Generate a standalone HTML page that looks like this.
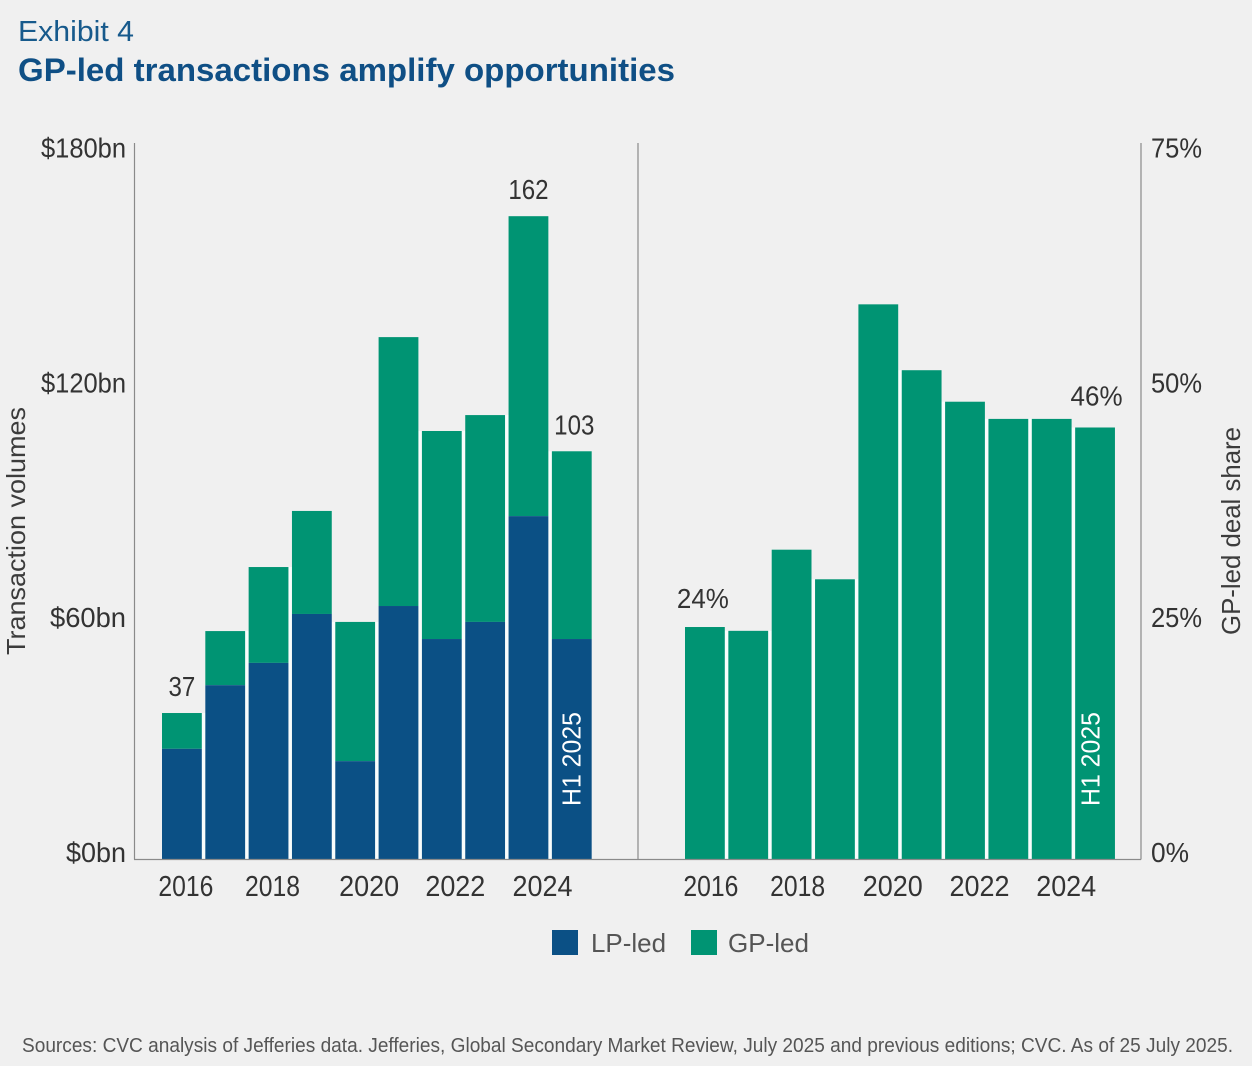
<!DOCTYPE html>
<html lang="en">
<head>
<meta charset="utf-8">
<title>GP-led transactions amplify opportunities</title>
<style>
html,body{margin:0;padding:0;background:#f0f0f0;}
body{width:1252px;height:1066px;overflow:hidden;}
svg{display:block;}
text{font-family:"Liberation Sans",sans-serif;}
</style>
</head>
<body>
<svg id="chart" width="1252" height="1066" viewBox="0 0 1252 1066" xmlns="http://www.w3.org/2000/svg">
<rect x="0" y="0" width="1252" height="1066" fill="#f0f0f0"/>
<text x="18" y="41" font-size="29" fill="#175a8c" textLength="116" lengthAdjust="spacingAndGlyphs">Exhibit 4</text>
<text x="18" y="81" font-size="32" font-weight="700" fill="#0f4f85" textLength="657" lengthAdjust="spacingAndGlyphs">GP-led transactions amplify opportunities</text>
<text transform="translate(25,655) rotate(-90)" x="0" y="0" font-size="26" fill="#3c3c3c" textLength="248" lengthAdjust="spacingAndGlyphs">Transaction volumes</text>
<text transform="translate(1240,635) rotate(-90)" x="0" y="0" font-size="26" fill="#3c3c3c" textLength="208" lengthAdjust="spacingAndGlyphs">GP-led deal share</text>
<g id="bars-left"></g>
<g id="bars-right"></g>
<g id="axes">
<line x1="134.5" y1="143" x2="134.5" y2="859.5" stroke="#8a8a8a" stroke-width="1.2"/>
<line x1="638" y1="143" x2="638" y2="859.5" stroke="#8a8a8a" stroke-width="1.2"/>
<line x1="1141" y1="143" x2="1141" y2="859.5" stroke="#8a8a8a" stroke-width="1.2"/>
<line x1="134" y1="859.5" x2="638" y2="859.5" stroke="#8a8a8a" stroke-width="1.2"/>
<line x1="638" y1="859.5" x2="1141" y2="859.5" stroke="#8a8a8a" stroke-width="1.2"/>
</g>
<g id="labels"></g>
<g>
<g>
<rect x="552" y="930" width="26" height="25" fill="#0b5085"/>
<text x="591" y="952" font-size="26" fill="#555555" textLength="75" lengthAdjust="spacingAndGlyphs">LP-led</text>
</g>
<g>
<rect x="691" y="930" width="26" height="25" fill="#009473"/>
<text x="728" y="952" font-size="26" fill="#555555" textLength="81" lengthAdjust="spacingAndGlyphs">GP-led</text>
</g>
</g>
<text x="22" y="1052" font-size="20" fill="#555555" textLength="1211" lengthAdjust="spacingAndGlyphs">Sources: CVC analysis of Jefferies data. Jefferies, Global Secondary Market Review, July 2025 and previous editions; CVC. As of 25 July 2025.</text>
</svg>
<script>
var categories = ['2016', '2017', '2018', '2019', '2020', '2021', '2022', '2023', '2024', 'H1 2025'];
var lpLed = [27.7, 43.7, 49.3, 61.6, 24.6, 63.6, 55.3, 59.6, 86.2, 55.3];
var gpLed = [9, 13.6, 24.1, 25.9, 35, 67.6, 52.3, 52, 75.4, 47.2];
var gpShare = [24.3, 23.9, 32.4, 29.3, 58.1, 51.2, 47.9, 46.1, 46.1, 45.2];
var volumeTicks = [0, 60, 120, 180];
var shareTicks = [0, 25, 50, 75];
var xTickYears = ['2016', '2018', '2020', '2022', '2024'];
var volumeCallouts = ['37', '', '', '', '', '', '', '', '162', '103'];
var shareCallouts = ['24%', '', '', '', '', '', '', '', '', '46%'];

var NS = 'http://www.w3.org/2000/svg';
var BLUE = '#0b5085', GREEN = '#009473', HALO = '#f9fdfc';
var AXIS_BOTTOM = 859, AXIS_TOP = 143;
var VOLUME_MAX = 180, SHARE_MAX = 75;
var BAR_W = 39.8, PITCH = 43.32, PITCH_R = 43.35;
var LEFT_X0 = 162, RIGHT_X0 = 685;

function yVolume(v) { return AXIS_BOTTOM - (v / VOLUME_MAX) * (AXIS_BOTTOM - AXIS_TOP); }
function yShare(v) { return AXIS_BOTTOM - (v / SHARE_MAX) * (AXIS_BOTTOM - AXIS_TOP); }
function tickBaseline(fraction) { return 862 - fraction * 704.5; }
function xLeft(i) { return LEFT_X0 + i * PITCH; }
function xRight(i) { return RIGHT_X0 + i * PITCH_R; }

function makeRect(parent, x, y, w, h, fill, name) {
  var el = document.createElementNS(NS, 'rect');
  el.setAttribute('x', x);
  el.setAttribute('y', y);
  el.setAttribute('width', w);
  el.setAttribute('height', h);
  el.setAttribute('fill', fill);
  
  
  parent.appendChild(el);
  return el;
}

function makeText(parent, str, x, y, size, fill, anchor, name, fitWidth) {
  var el = document.createElementNS(NS, 'text');
  el.setAttribute('x', x);
  el.setAttribute('y', y);
  el.setAttribute('font-size', size);
  el.setAttribute('fill', fill);
  el.setAttribute('text-anchor', anchor);
  if (fitWidth) {
    el.setAttribute('textLength', fitWidth);
    el.setAttribute('lengthAdjust', 'spacingAndGlyphs');
  }
  el.textContent = str;
  
  
  parent.appendChild(el);
  return el;
}

var barsLeft = document.getElementById('bars-left');
var barsRight = document.getElementById('bars-right');
var labels = document.getElementById('labels');

categories.forEach(function (cat, i) {
  var x = xLeft(i);
  var lpTop = yVolume(lpLed[i]);
  var totalTop = yVolume(lpLed[i] + gpLed[i]);
  if (i < categories.length - 1) {
    var gapTop = Math.max(totalTop, yVolume(lpLed[i + 1] + gpLed[i + 1]));
    makeRect(barsLeft, x + BAR_W - 0.5, gapTop, PITCH - BAR_W + 1, AXIS_BOTTOM - gapTop, HALO, 'bar-gap-left-' + cat);
  }
  makeRect(barsLeft, x, totalTop, BAR_W, lpTop - totalTop, GREEN, 'bar-gp-led-' + cat);
  makeRect(barsLeft, x, lpTop, BAR_W, AXIS_BOTTOM - lpTop, BLUE, 'bar-lp-led-' + cat);

  var xr = xRight(i);
  var shareTop = yShare(gpShare[i]);
  if (i < categories.length - 1) {
    var shareGapTop = Math.max(shareTop, yShare(gpShare[i + 1]));
    makeRect(barsRight, xr + BAR_W - 0.5, shareGapTop, PITCH_R - BAR_W + 1, AXIS_BOTTOM - shareGapTop, HALO, 'bar-gap-right-' + cat);
  }
  makeRect(barsRight, xr, shareTop, BAR_W, AXIS_BOTTOM - shareTop, GREEN, 'bar-share-' + cat);

  if (volumeCallouts[i]) {
    makeText(labels, volumeCallouts[i], x + BAR_W / 2 + (i === 9 ? 2.5 : 0), totalTop - 17, 28, '#333333', 'middle', 'value-label-volume-' + cat, volumeCallouts[i].length * 13.4);
  }
  if (shareCallouts[i]) {
    makeText(labels, shareCallouts[i], xr + BAR_W / 2 + (i === 0 ? -2 : 1.5), shareTop - (i === 0 ? 19 : 22), 28, '#333333', 'middle', 'value-label-share-' + cat, 52);
  }
});

volumeTicks.forEach(function (t) {
  var s = '$' + t + 'bn';
  makeText(labels, s, 126, tickBaseline(t / VOLUME_MAX), 28, '#333333', 'end', 'y-tick-volume-' + t, t === 180 || t === 120 ? 85 : t === 60 ? 76 : 60);
});
shareTicks.forEach(function (t) {
  var s = t + '%';
  makeText(labels, s, 1151, tickBaseline(t / SHARE_MAX), 28, '#333333', 'start', 'y-tick-share-' + t, t === 0 ? 38 : 51);
});

xTickYears.forEach(function (yr) {
  var i = categories.indexOf(yr);
  var offset = i < 4 ? 4 : 14;
  var w = i < 4 ? 55 : 60;
  makeText(labels, yr, xLeft(i) + BAR_W / 2 + offset - (i === 6 ? 0.5 : 0), 896, 29, '#333333', 'middle', 'x-tick-left-' + yr, w);
  makeText(labels, yr, xRight(i) + BAR_W / 2 + offset + (i < 4 ? 2 : 0.5), 896, 29, '#333333', 'middle', 'x-tick-right-' + yr, w);
});

[xLeft(9) + BAR_W / 2 + 8.5, xRight(9) + BAR_W / 2 + 4.5].forEach(function (bx, k) {
  var el = makeText(labels, categories[9], 0, 0, 26, '#ffffff', 'start', k === 0 ? 'h1-2025-label-left' : 'h1-2025-label-right', 94);
  el.setAttribute('transform', 'translate(' + bx + ',806) rotate(-90)');
});
</script>
</body>
</html>
